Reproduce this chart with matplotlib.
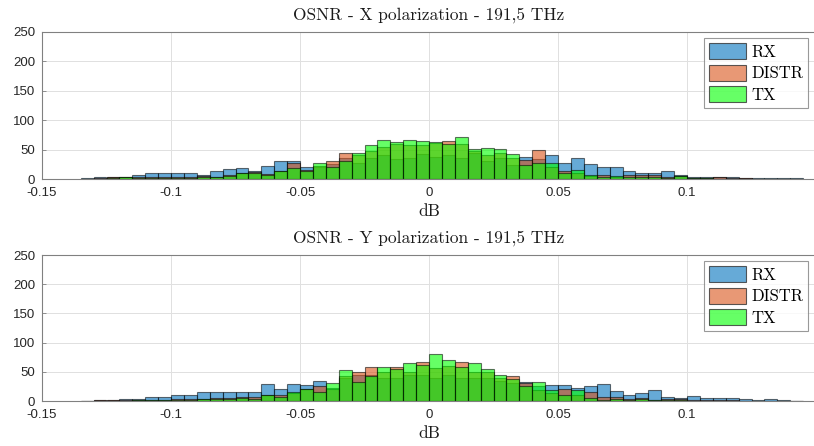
import numpy as np
import matplotlib
matplotlib.use("Agg")
import matplotlib.pyplot as plt
from matplotlib.patches import Patch

# bin edges (dB)
bin_start = -0.135
bin_width = 0.005

# X polarization counts per bin (bins from -0.135 to 0.145)
x_rx = [2, 4, 3, 3, 6, 11, 11, 10, 10, 6, 13, 17, 18, 14, 22, 30, 30, 20, 20, 25,
        35, 27, 35, 40, 34, 35, 43, 37, 40, 35, 45, 30, 35, 24, 37, 34, 41, 27, 35, 26,
        20, 20, 14, 11, 10, 14, 7, 3, 3, 3, 3, 2, 2, 1, 2, 1]
x_distr = [0, 1, 3, 3, 3, 4, 3, 3, 4, 5, 4, 6, 10, 12, 9, 13, 28, 16, 22, 30,
           44, 40, 48, 55, 60, 58, 57, 61, 64, 59, 48, 40, 44, 35, 33, 49, 20, 14, 10, 5,
           6, 4, 6, 6, 6, 3, 5, 2, 2, 3, 1, 1, 0, 0, 0, 0]
x_tx = [0, 0, 1, 3, 2, 2, 1, 2, 2, 4, 4, 5, 10, 10, 7, 14, 18, 14, 27, 20,
        30, 44, 57, 66, 63, 67, 64, 63, 60, 71, 51, 53, 51, 42, 24, 27, 27, 11, 15, 7,
        4, 5, 3, 3, 3, 1, 5, 1, 1, 0, 0, 0, 0, 0, 0, 0]

# Y polarization counts per bin
y_rx = [0, 2, 2, 3, 3, 7, 7, 10, 10, 15, 15, 15, 15, 16, 29, 21, 29, 27, 34, 22,
        39, 45, 45, 40, 40, 45, 45, 40, 45, 40, 40, 40, 35, 30, 33, 25, 27, 27, 22, 26,
        29, 17, 11, 13, 18, 6, 5, 9, 5, 5, 5, 3, 1, 3, 2, 0]
y_distr = [0, 1, 2, 1, 2, 2, 2, 3, 3, 4, 5, 5, 6, 6, 10, 10, 14, 20, 26, 20,
           42, 49, 59, 50, 59, 49, 66, 56, 60, 66, 50, 50, 40, 42, 30, 19, 14, 20, 10, 15,
           6, 7, 3, 5, 2, 4, 3, 1, 1, 2, 1, 0, 0, 0, 0, 0]
y_tx = [0, 0, 0, 0, 1, 1, 2, 2, 2, 3, 3, 4, 5, 4, 11, 7, 15, 20, 16, 30,
        53, 33, 43, 58, 55, 65, 61, 80, 70, 59, 65, 54, 45, 38, 25, 32, 18, 11, 18, 5,
        2, 3, 1, 3, 1, 1, 1, 0, 0, 0, 0, 0, 0, 0, 0, 0]

series_names = ["RX", "DISTR", "TX"]
series_colors = [(0, 0.447, 0.741), (0.85, 0.325, 0.098), (0, 1, 0)]
titles = ["OSNR - X polarization - 191,5 THz", "OSNR - Y polarization - 191,5 THz"]
xticks = [-0.15, -0.1, -0.05, 0, 0.05, 0.1]
xtick_labels = ["-0.15", "-0.1", "-0.05", "0", "0.05", "0.1"]
yticks = [0, 50, 100, 150, 200, 250]

W, H = 814, 446
fig = plt.figure(figsize=(W / 100, H / 100), dpi=100)

serif = "cmr10"
tick_col = (0.15, 0.15, 0.15)

def make_axes(top_px, bot_px):
    left = 42 / W
    right = 816 / W
    return fig.add_axes([left, 1 - bot_px / H, right - left, (bot_px - top_px) / H])

panels = [
    (make_axes(32, 179), [x_rx, x_distr, x_tx], titles[0]),
    (make_axes(255, 401), [y_rx, y_distr, y_tx], titles[1]),
]

for ax, data, title in panels:
    n = len(data[0])
    lefts = bin_start + bin_width * np.arange(n)
    for vals, col in zip(data, series_colors):
        ax.bar(lefts, vals, width=bin_width, align="edge",
               color=col + (0.6,), edgecolor=(0, 0, 0, 0.55), linewidth=0.8)
    ax.set_xlim(-0.15, 0.15)
    ax.set_ylim(0, 250)
    ax.set_xticks(xticks)
    ax.set_xticklabels(xtick_labels)
    ax.set_yticks(yticks)
    ax.grid(True, color=(0.88, 0.88, 0.88), linewidth=0.7)
    ax.set_axisbelow(True)
    for side in ["left", "bottom", "top"]:
        ax.spines[side].set_color((0.5, 0.5, 0.5))
        ax.spines[side].set_linewidth(0.8)
    ax.spines["right"].set_visible(False)
    ax.tick_params(axis="both", colors=(0.5, 0.5, 0.5), labelcolor=tick_col,
                   labelsize=9.5, length=3, direction="in", width=0.6)
    ax.tick_params(axis="x", pad=6)
    ax.tick_params(axis="y", pad=5)
    for lbl in ax.get_xticklabels() + ax.get_yticklabels():
        lbl.set_fontfamily(["Liberation Sans", "DejaVu Sans"])
    ax.set_title(title, fontfamily=serif, fontsize=12.5, color=(0.1, 0.1, 0.1), pad=9)
    ax.set_xlabel("dB", fontfamily=serif, fontsize=12.5, color=(0.1, 0.1, 0.1), labelpad=3)

    handles = [Patch(facecolor=c + (0.6,), edgecolor=(0.2, 0.2, 0.2, 0.8), linewidth=0.8)
               for c in series_colors]
    leg = ax.legend(handles, series_names, loc="upper right",
                    bbox_to_anchor=(0.99, 0.96), borderaxespad=0,
                    prop={"family": serif, "size": 12}, frameon=True, fancybox=False,
                    handlelength=2.2, handleheight=1.1, handletextpad=0.3,
                    labelspacing=0.3, borderpad=0.3)
    leg.get_frame().set_edgecolor((0.5, 0.5, 0.5))
    leg.get_frame().set_linewidth(0.8)

fig.savefig("out.png", dpi=100)
